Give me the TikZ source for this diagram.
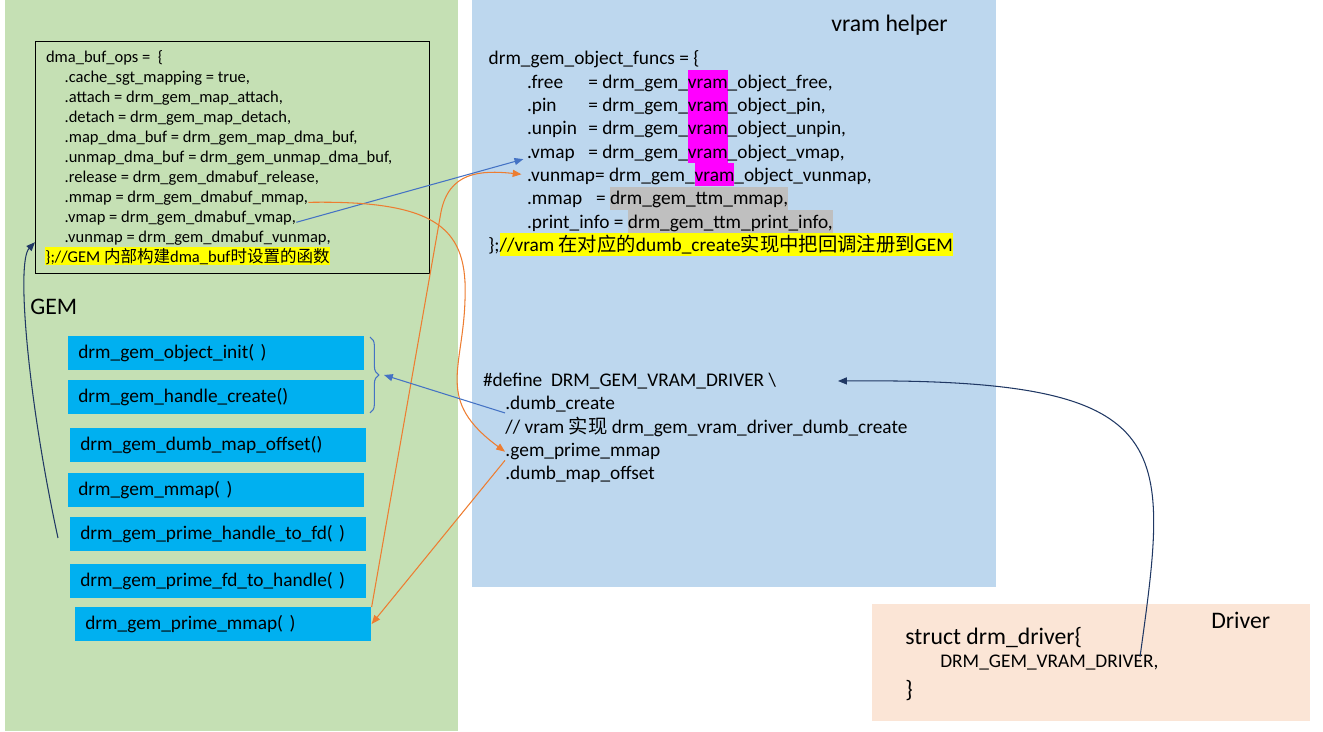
\documentclass[tikz,border=0pt]{standalone}
\usepackage{fontspec}
\setmainfont{Carlito}
\newfontfamily\cjk{Noto Sans CJK SC}
\usetikzlibrary{arrows.meta,decorations.pathreplacing}
\definecolor{gemgreen}{HTML}{C5E0B4}
\definecolor{vramblue}{HTML}{BDD7EE}
\definecolor{drvpeach}{HTML}{FBE5D6}
\definecolor{gemfn}{HTML}{00B0F0}
\definecolor{linkblue}{HTML}{4472C4}
\definecolor{linkorange}{HTML}{ED7D31}
\definecolor{linknavy}{HTML}{203864}
\definecolor{ttmgray}{HTML}{BFBFBF}
\definecolor{vrampink}{HTML}{FF00FF}
\definecolor{notemark}{HTML}{FFFF00}
\newcommand\marktext[2]{{\fboxsep=0pt\colorbox{#1}{\rule[-2.8pt]{0pt}{13.2pt}#2}}}
\newcommand\markops[2]{{\fboxsep=0pt\colorbox{#1}{\rule[-1.4pt]{0pt}{10pt}#2}}}
\tikzset{
  opsline/.style={anchor=base west, inner sep=0pt, font=\fontsize{9.4pt}{11.3pt}\selectfont},
  codeline/.style={anchor=base west, inner sep=0pt, font=\fontsize{11pt}{13.2pt}\selectfont},
  paneltitle/.style={anchor=base west, inner sep=0pt, font=\fontsize{13.5pt}{16pt}\selectfont},
  gembox/.style={anchor=north west, fill=gemfn, inner xsep=0.2cm, inner ysep=0pt,
    text width=5.52cm, minimum height=0.666cm, align=left,
    font=\fontsize{11pt}{13.2pt}\selectfont},
  link/.style={line width=0.6pt, -{Triangle[length=5pt,width=4pt]}}
}
\begin{document}
\begin{tikzpicture}[x=0.02cm, y=-0.02cm]
\useasboundingbox (0,0) rectangle (1323,732);
\fill[gemgreen] (5,0) rectangle (458,731);
\fill[vramblue] (472,0) rectangle (996,587);
\fill[drvpeach] (872,604) rectangle (1310,721);

\node[draw=black, line width=0.8pt, anchor=north west, inner sep=0pt,
  minimum width=7.88cm, minimum height=4.64cm] (ops-box) at (35,41) {};
\node[opsline] (ops-head) at (45.7,62.7) {dma\_buf\_ops =\ \ \{};
\node[opsline] (ops-cache) at (64.3,82.65) {.cache\_sgt\_mapping = true,};
\node[opsline] (ops-attach) at (64.3,102.6) {.attach = drm\_gem\_map\_attach,};
\node[opsline] (ops-detach) at (64.3,122.55) {.detach = drm\_gem\_map\_detach,};
\node[opsline] (ops-map) at (64.3,142.5) {.map\_dma\_buf = drm\_gem\_map\_dma\_buf,};
\node[opsline] (ops-unmap) at (64.3,162.45) {.unmap\_dma\_buf = drm\_gem\_unmap\_dma\_buf,};
\node[opsline] (ops-release) at (64.3,182.4) {.release = drm\_gem\_dmabuf\_release,};
\node[opsline] (ops-mmap) at (64.3,202.35) {.mmap = drm\_gem\_dmabuf\_mmap,};
\node[opsline] (ops-vmap) at (64.3,222.3) {.vmap = drm\_gem\_dmabuf\_vmap,};
\node[opsline] (ops-vunmap) at (64.3,242.25) {.vunmap = drm\_gem\_dmabuf\_vunmap,};
\node[opsline] (ops-tail) at (45,262.2)
  {\markops{notemark}{\};//GEM {\cjk 内部构建}dma\_buf{\cjk 时设置的函数}}};

\node[paneltitle] (gem-title) at (30,315) {GEM};
\node[gembox] (gem-init) at (68,336) {drm\_gem\_object\_init( )};
\node[gembox] (gem-handle) at (68,380) {drm\_gem\_handle\_create()};
\node[gembox] (gem-offset) at (70,428) {drm\_gem\_dumb\_map\_offset()};
\node[gembox] (gem-mmap) at (68,473) {drm\_gem\_mmap( )};
\node[gembox] (gem-h2fd) at (70,517) {drm\_gem\_prime\_handle\_to\_fd( )};
\node[gembox] (gem-fd2h) at (70,564) {drm\_gem\_prime\_fd\_to\_handle( )};
\node[gembox] (gem-pmmap) at (75,607) {drm\_gem\_prime\_mmap( )};
\draw[linkblue, line width=0.6pt, decorate, decoration={brace, amplitude=5pt}]
  (370,337) -- (370,413);
\coordinate (brace-tip) at (384,375);

\node[paneltitle] (vram-title) at (831,32) {vram helper};
\node[codeline] (fn-head) at (488.3,65) {drm\_gem\_object\_funcs = \{};
\node[codeline] (fn-free) at (526.7,88.3)
  {\makebox[34.9pt][l]{.free}= drm\_gem\_\marktext{vrampink}{vram}\_object\_free,};
\node[codeline] (fn-pin) at (526.7,111.6)
  {\makebox[34.9pt][l]{.pin}= drm\_gem\_\marktext{vrampink}{vram}\_object\_pin,};
\node[codeline] (fn-unpin) at (526.7,134.9)
  {\makebox[34.9pt][l]{.unpin}= drm\_gem\_\marktext{vrampink}{vram}\_object\_unpin,};
\node[codeline] (fn-vmap) at (526.7,158.2)
  {\makebox[34.9pt][l]{.vmap}= drm\_gem\_\marktext{vrampink}{vram}\_object\_vmap,};
\node[codeline] (fn-vunmap) at (526.7,181.5)
  {.vunmap= drm\_gem\_\marktext{vrampink}{vram}\_object\_vunmap,};
\node[codeline] (fn-mmap) at (526.7,204.8)
  {\makebox[39.3pt][l]{.mmap}= \marktext{ttmgray}{drm\_gem\_ttm\_mmap,}};
\node[codeline] (fn-info) at (526.7,228.1)
  {.print\_info = \marktext{ttmgray}{drm\_gem\_ttm\_print\_info,}};
\node[codeline] (fn-tail) at (488,251.4)
  {\};\marktext{notemark}{//vram {\cjk 在对应的}dumb\_create{\cjk 实现中把回调注册到}GEM}};

\node[codeline] (def-head) at (482.7,386.7) {\#define\ \ DRM\_GEM\_VRAM\_DRIVER \textbackslash};
\node[codeline] (def-dumb) at (505,410) {.dumb\_create};
\node[codeline] (def-note) at (505,433.3) {// vram {\cjk 实现} drm\_gem\_vram\_driver\_dumb\_create};
\node[codeline] (def-prime) at (505,456.7) {.gem\_prime\_mmap};
\node[codeline] (def-offset) at (505,480) {.dumb\_map\_offset};
\coordinate (def-entry) at (838,381);

\node[paneltitle] (drv-title) at (1211,629) {Driver};
\node[paneltitle] (drv-head) at (905,645) {struct drm\_driver\{};
\node[codeline] (drv-macro) at (940,668) {DRM\_GEM\_VRAM\_DRIVER,};
\node[paneltitle] (drv-close) at (905,698) {\}};
\coordinate (drv-tail) at (1140,657);

\coordinate (h2fd-tail) at (58,538);
\coordinate (ops-entry) at (ops-box.west |- ops-vunmap.base);

\draw[link, linkblue, shorten >=2pt] (ops-vmap.base east) -- (fn-vmap.base west);
\draw[link, linkorange] (ops-mmap.base east) .. controls (440,200) and (468,230) .. (465,300)
  .. controls (463,370) and (435,400) .. (def-prime.west);
\draw[link, linkorange] (def-prime.south west) -- (gem-pmmap.east);
\draw[link, linkorange, shorten >=3pt] (gem-pmmap.north east) -- (441,212)
  .. controls (449,172) and (480,170) .. (fn-vunmap.west);
\draw[link, linkblue] (def-dumb.south west) -- (brace-tip);
\draw[link, linknavy] (h2fd-tail) .. controls (28,400) and (16,262) .. (ops-entry);
\draw[link, linknavy] (drv-tail) .. controls (1170,440) and (1180,378) .. (def-entry);
\end{tikzpicture}
\end{document}
